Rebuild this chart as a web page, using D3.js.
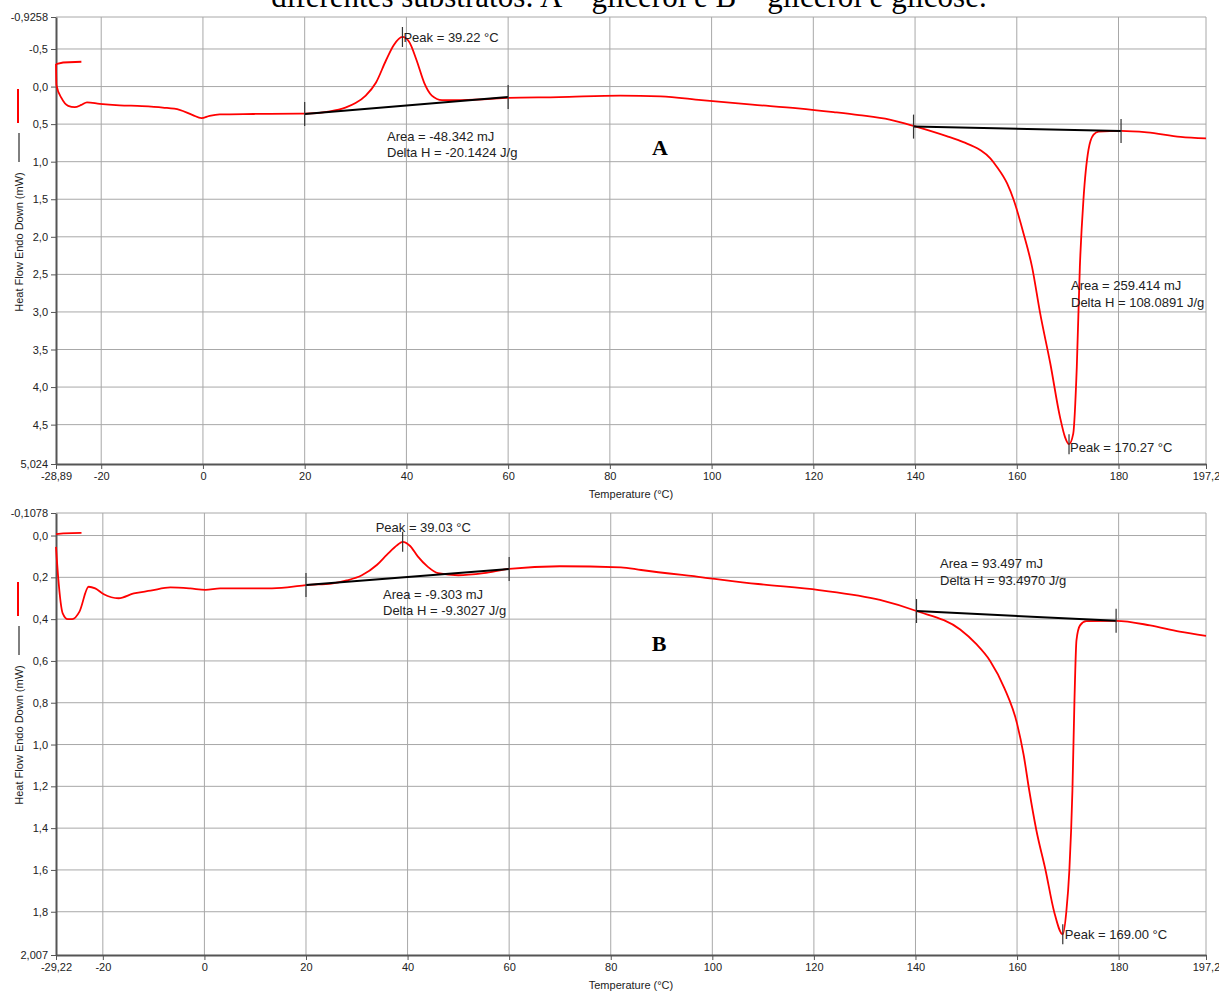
<!DOCTYPE html>
<html>
<head>
<meta charset="utf-8">
<script src="https://cdn.jsdelivr.net/npm/d3@7"></script>
<style>
  body { margin: 0; background: #fff; }
  svg { display: block; }
  text { font-family: "Liberation Sans", Arial, sans-serif; fill: #222; }
  .tick-label { font-size: 11px; }
  .axis-title { font-size: 11px; }
  .note { font-size: 13px; }
  .grid { stroke: #a8a8a8; stroke-width: 1; }
  .curve { fill: none; stroke: #ff0000; stroke-width: 1.8; }
  .base { fill: none; stroke: #000; stroke-width: 2; }
  .mark { stroke: #333; stroke-width: 1.2; }
</style>
</head>
<body>
<script>
// DSC curves, panel A (glicerol) and panel B (glicerol e glicose)

const W = 1219, H = 992;

// Panel A data
const startA_T = [-28.89, -27.5, -23.9];
const startA_V = [-0.30, -0.32, -0.33];
const tempA = [-28.89, -28.8, -27.8, -26.5, -25.2, -23.9, -22.8, -20.3, -16.4, -12, -7.9, -4.6, -2, -0.3, 1.3, 3.3, 10, 19,
  20, 25, 28, 30, 32, 34, 36, 37.5, 39.22, 40.5, 42, 43.5, 45, 47, 50, 55, 60,
  70, 82, 90, 98, 108, 117, 124, 129, 135, 140,
  146.2, 149.5, 152.8, 154.8, 156.1, 158.1, 159.4, 161.3, 163, 164.6, 166.6, 168.5, 169.5, 170.27, 171.1, 171.8, 172.4, 173.1, 174.1, 175.1, 176.1,
  180.5, 185.6, 192.2, 197.2];
const flowA = [-0.30, -0.02, 0.155, 0.257, 0.275, 0.244, 0.21, 0.23, 0.25, 0.26, 0.28, 0.31, 0.38, 0.42, 0.39, 0.37, 0.365, 0.36,
  0.36, 0.33, 0.28, 0.22, 0.12, -0.05, -0.35, -0.55, -0.66, -0.6, -0.35, -0.05, 0.12, 0.18, 0.18, 0.17, 0.15,
  0.14, 0.12, 0.13, 0.18, 0.24, 0.29, 0.34, 0.38, 0.44, 0.53,
  0.66, 0.74, 0.845, 0.955, 1.07, 1.29, 1.51, 1.95, 2.4, 3.02, 3.69, 4.4, 4.67, 4.76, 4.62, 3.73, 2.4, 1.51, 0.84, 0.64, 0.6,
  0.59, 0.61, 0.67, 0.69];
const baseA1 = [[20, 0.365], [60, 0.14]];
const baseA2 = [[139.7, 0.533], [180.5, 0.59]];
const yTicksA = [-0.5, 0, 0.5, 1, 1.5, 2, 2.5, 3, 3.5, 4, 4.5];
const yLabelsA = ["-0,5", "0,0", "0,5", "1,0", "1,5", "2,0", "2,5", "3,0", "3,5", "4,0", "4,5"];

// Panel B data
const startB_T = [-29.22, -27.8, -24.2];
const startB_V = [-0.007, -0.01, -0.013];
const tempB = [-29.22, -28.8, -27.9, -26.9, -26, -24.6, -22.8, -21.5, -19.8, -16.9, -13.9, -10.6, -6.7, -2.8, 0.2, 3.1, 12.5, 16.3, 20,
  25, 28, 31, 34, 36, 38, 39.03, 40.5, 42, 44, 46, 50, 55, 60,
  70, 82, 86, 98, 109, 121, 133, 140.2,
  148.8, 152, 154.7, 157.5, 160, 161.3, 162.4, 163.8, 165.6, 167.3, 169.0, 169.7, 170.3, 170.9, 171.3, 171.7, 172.4, 173.6,
  179.5, 186.2, 192, 197.2];
const flowB = [0.054, 0.197, 0.372, 0.40, 0.40, 0.364, 0.245, 0.253, 0.281, 0.30, 0.277, 0.264, 0.248, 0.253, 0.26, 0.253, 0.253, 0.248, 0.237,
  0.23, 0.215, 0.19, 0.14, 0.09, 0.045, 0.03, 0.05, 0.1, 0.15, 0.18, 0.19, 0.18, 0.16,
  0.147, 0.152, 0.165, 0.20, 0.232, 0.261, 0.308, 0.361,
  0.45, 0.52, 0.60, 0.73, 0.90, 1.05, 1.22, 1.41, 1.60, 1.80, 1.908, 1.80, 1.60, 1.22, 0.79, 0.50, 0.43, 0.41,
  0.408, 0.43, 0.46, 0.48];
const baseB1 = [[20, 0.237], [60, 0.16]];
const baseB2 = [[140.2, 0.361], [179.5, 0.408]];
const yTicksB = [0, 0.2, 0.4, 0.6, 0.8, 1, 1.2, 1.4, 1.6, 1.8];
const yLabelsB = ["0,0", "0,2", "0,4", "0,6", "0,8", "1,0", "1,2", "1,4", "1,6", "1,8"];

const xTicks = [-20, 0, 20, 40, 60, 80, 100, 120, 140, 160, 180];

const fmt = v => String(v).replace(".", ",");

const svg = d3.select("body").append("svg")
  .attr("width", W).attr("height", H);

// cut title from the page above
svg.append("text")
  .attr("x", 629).attr("y", 7)
  .attr("text-anchor", "middle")
  .style("font-family", "'Liberation Serif', 'Times New Roman', serif")
  .style("font-size", "31px")
  .style("fill", "#000")
  .text("diferentes substratos: A – glicerol e B – glicerol e glicose.");

function panel(cfg) {
  const x = d3.scaleLinear().domain(cfg.xDomain).range([56, 1206]);
  const y = d3.scaleLinear().domain(cfg.yDomain).range([cfg.top, cfg.bottom]);
  const g = svg.append("g");

  // grid
  g.selectAll(".gx").data(xTicks).join("line")
    .attr("class", "grid")
    .attr("x1", d => x(d)).attr("x2", d => x(d))
    .attr("y1", cfg.top).attr("y2", cfg.bottom);
  g.selectAll(".gy").data(cfg.yTicks).join("line")
    .attr("class", "grid")
    .attr("x1", 56).attr("x2", 1206)
    .attr("y1", d => y(d)).attr("y2", d => y(d));
  g.append("line").attr("class", "grid")
    .attr("x1", 56).attr("x2", 1206).attr("y1", cfg.top).attr("y2", cfg.top);
  g.append("line").attr("class", "grid")
    .attr("x1", 1206).attr("x2", 1206).attr("y1", cfg.top).attr("y2", cfg.bottom);

  // axes
  const yAll = [cfg.yDomain[0]].concat(cfg.yTicks, [cfg.yDomain[1]]);
  const yLab = [cfg.yEnds[0]].concat(cfg.yLabels, [cfg.yEnds[1]]);
  const left = d3.axisLeft(y).tickValues(yAll)
    .tickFormat((d, i) => yLab[i]).tickSize(5).tickSizeOuter(0);
  g.append("g").attr("transform", "translate(56,0)").call(left)
    .call(a => a.select(".domain").attr("stroke", "#555").attr("stroke-width", 2))
    .call(a => a.selectAll(".tick line").attr("stroke", "#555"))
    .call(a => a.selectAll(".tick text").attr("class", "tick-label")
      .style("font-family", "'Liberation Sans', Arial, sans-serif").attr("fill", "#222"));

  const xAll = [cfg.xDomain[0]].concat(xTicks, [cfg.xDomain[1]]);
  const bottom = d3.axisBottom(x).tickValues(xAll)
    .tickFormat(d => fmt(d)).tickSize(5).tickSizeOuter(0);
  g.append("g").attr("transform", `translate(0,${cfg.bottom})`).call(bottom)
    .call(a => a.select(".domain").attr("stroke", "#555").attr("stroke-width", 2))
    .call(a => a.selectAll(".tick line").attr("stroke", "#555"))
    .call(a => a.selectAll(".tick text").attr("class", "tick-label")
      .style("font-family", "'Liberation Sans', Arial, sans-serif").attr("fill", "#222"));

  g.append("text").attr("class", "axis-title")
    .attr("x", 631).attr("y", cfg.bottom + 34)
    .attr("text-anchor", "middle").text("Temperature (°C)");

  // y title with little legend strokes
  const cy = cfg.labelY;
  g.append("text").attr("class", "axis-title")
    .attr("transform", `translate(23,${cy}) rotate(-90)`)
    .attr("text-anchor", "middle").text("Heat Flow Endo Down (mW)");
  g.append("line").attr("stroke", "#000").attr("stroke-width", 1)
    .attr("x1", 19).attr("x2", 19).attr("y1", cy - 80).attr("y2", cy - 109);
  g.append("line").attr("stroke", "#ff0000").attr("stroke-width", 2)
    .attr("x1", 18).attr("x2", 18).attr("y1", cy - 119).attr("y2", cy - 153);

  // curves
  const line = d3.line().x(d => x(d[0])).y(d => y(d[1]));
  const smooth = d3.line().x(d => x(d[0])).y(d => y(d[1])).curve(d3.curveMonotoneX);
  g.append("path").attr("class", "curve")
    .attr("d", line(d3.zip(cfg.startT, cfg.startV)));
  g.append("path").attr("class", "curve")
    .attr("d", smooth(d3.zip(cfg.temp, cfg.flow)));

  cfg.bases.forEach(b => {
    g.append("path").attr("class", "base").attr("d", line(b));
    b.forEach(p => {
      g.append("line").attr("class", "mark")
        .attr("x1", x(p[0])).attr("x2", x(p[0]))
        .attr("y1", y(p[1]) - 12).attr("y2", y(p[1]) + 12);
    });
  });

  cfg.peaks.forEach(p => {
    const px = x(p.t), py = y(p.v);
    g.append("line").attr("class", "mark")
      .attr("x1", px).attr("x2", px).attr("y1", py - 10).attr("y2", py + 10);
    g.append("text").attr("class", "note")
      .attr("x", px + p.dx).attr("y", py + p.dy).text(p.text);
  });

  cfg.notes.forEach(n => {
    g.append("text").attr("class", "note")
      .attr("x", n.x).attr("y", n.y).text(n.text);
  });

  svg.append("text")
    .attr("x", cfg.letter[0]).attr("y", cfg.letter[1])
    .attr("text-anchor", "middle")
    .style("font-family", "'Liberation Serif', 'Times New Roman', serif")
    .style("font-size", "22px").style("font-weight", "bold").style("fill", "#000")
    .text(cfg.letterText);
}

panel({
  xDomain: [-28.89, 197.2], yDomain: [-0.9258, 5.024], yEnds: ["-0,9258", "5,024"],
  top: 17, bottom: 464, yTicks: yTicksA, yLabels: yLabelsA, labelY: 242,
  startT: startA_T, startV: startA_V, temp: tempA, flow: flowA,
  bases: [baseA1, baseA2],
  peaks: [
    { t: 39.22, v: -0.66, text: "Peak = 39.22 °C", dx: 1, dy: 5 },
    { t: 170.27, v: 4.76, text: "Peak = 170.27 °C", dx: 1, dy: 8 }
  ],
  notes: [
    { x: 387, y: 141, text: "Area = -48.342 mJ" },
    { x: 387, y: 157, text: "Delta H = -20.1424 J/g" },
    { x: 1071, y: 290, text: "Area = 259.414 mJ" },
    { x: 1071, y: 307, text: "Delta H = 108.0891 J/g" }
  ],
  letter: [660, 155], letterText: "A"
});

panel({
  xDomain: [-29.22, 197.2], yDomain: [-0.1078, 2.007], yEnds: ["-0,1078", "2,007"],
  top: 513, bottom: 955, yTicks: yTicksB, yLabels: yLabelsB, labelY: 735,
  startT: startB_T, startV: startB_V, temp: tempB, flow: flowB,
  bases: [baseB1, baseB2],
  peaks: [
    { t: 39.03, v: 0.03, text: "Peak = 39.03 °C", dx: -27, dy: -10 },
    { t: 169.0, v: 1.908, text: "Peak = 169.00 °C", dx: 2, dy: 5 }
  ],
  notes: [
    { x: 383, y: 599, text: "Area = -9.303 mJ" },
    { x: 383, y: 615, text: "Delta H = -9.3027 J/g" },
    { x: 940, y: 568, text: "Area = 93.497 mJ" },
    { x: 940, y: 585, text: "Delta H = 93.4970 J/g" }
  ],
  letter: [659, 651], letterText: "B"
});
</script>
</body>
</html>
